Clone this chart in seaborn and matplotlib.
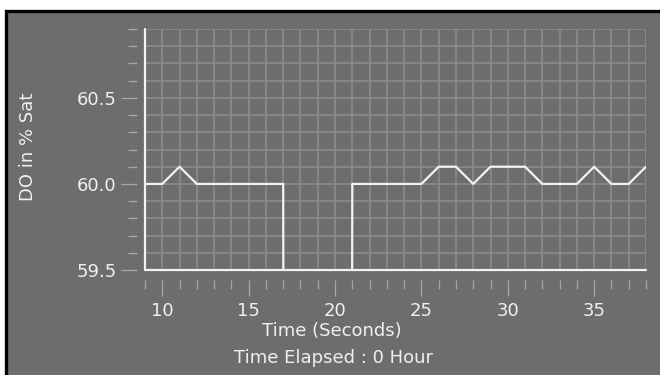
import matplotlib
matplotlib.use("Agg")
import matplotlib.pyplot as plt
from matplotlib.patches import Rectangle
from matplotlib.ticker import MultipleLocator, FixedLocator
import seaborn as sns
import pandas as pd

# ---- data ----
time_s = [9, 10, 11, 12, 13, 14, 15, 16, 17, 18, 19, 20, 21, 22, 23, 24, 25,
          26, 27, 28, 29, 30, 31, 32, 33, 34, 35, 36, 37, 38]
do_sat = [60.0, 60.0, 60.1, 60.0, 60.0, 60.0, 60.0, 60.0, 60.0, 0.0, 0.0, 0.0,
          60.0, 60.0, 60.0, 60.0, 60.0, 60.1, 60.1, 60.0, 60.1, 60.1, 60.1,
          60.0, 60.0, 60.0, 60.1, 60.0, 60.0, 60.1]
x_ticks = [10, 15, 20, 25, 30, 35]
y_ticks = [59.5, 60.0, 60.5]
y_tick_labels = ["59.5", "60.0", "60.5"]

df = pd.DataFrame({"time": time_s, "do": do_sat})

sns.set_theme(style="dark")
plt.rcParams["font.family"] = ["DejaVu Sans"]

BG = "#6d6d6d"
GRID = "#8b8b8b"
TXT = "#f0f0f0"
TICK = "#a8a8a8"

W, H = 660, 375
fig = plt.figure(figsize=(W / 100, H / 100), dpi=100, facecolor="white")
# framed panel
fig.patches.append(Rectangle((6.5 / W, -0.1), 1.2, (H - 11.5) / H + 0.1,
                             transform=fig.transFigure, facecolor=BG,
                             edgecolor="black", linewidth=2.4, zorder=-10))

ax = fig.add_axes([145 / W, (H - 270) / H, (646 - 145) / W, (270 - 29) / H])
ax.set_facecolor(BG)

sns.lineplot(data=df, x="time", y="do", ax=ax, color="#f2f2f2",
             linewidth=1.6, zorder=5, clip_on=True)

ax.set_xlim(time_s[0], time_s[-1])
ax.set_ylim(59.5, 60.9)

ax.xaxis.set_major_locator(FixedLocator(x_ticks))
ax.xaxis.set_minor_locator(MultipleLocator(1))
ax.yaxis.set_major_locator(FixedLocator(y_ticks))
ax.yaxis.set_minor_locator(MultipleLocator(0.1))
ax.set_yticklabels(y_tick_labels)
ax.set_xticklabels([str(t) for t in x_ticks])
for lbl in ax.get_xticklabels():
    lbl.set_ha("left")

ax.grid(True, which="both", color=GRID, linewidth=1.2)
ax.set_axisbelow(True)

for s in ["top", "right"]:
    ax.spines[s].set_visible(False)
ax.spines["left"].set_position(("outward", 6))
ax.spines["left"].set_color("none")
ax.spines["bottom"].set_position(("outward", 7.5))
ax.spines["bottom"].set_color("none")
# visible white frame lines at the plot edge
ax.axvline(time_s[0], color="#f2f2f2", linewidth=1.6, zorder=6, clip_on=False)
ax.axhline(59.5, color="#f2f2f2", linewidth=1.6, zorder=6, clip_on=False)

ax.tick_params(axis="both", which="major", direction="out", length=11.5,
               width=0.9, color=TICK, labelcolor=TXT, labelsize=13)
ax.tick_params(axis="both", which="minor", direction="out", length=6.5,
               width=0.9, color=TICK)
ax.tick_params(axis="y", which="major", pad=3)
ax.tick_params(axis="x", which="major", pad=4)
ax.tick_params(axis="both", which="both", left=True, bottom=True)

ax.set_xlabel("Time (Seconds)", color=TXT, fontsize=13)
ax.xaxis.label.set_va("center")
ax.xaxis.set_label_coords((332 - 145) / 501, -(331 - 270) / 241)
ax.set_ylabel("DO in % Sat", color=TXT, fontsize=13)
ax.yaxis.label.set_va("center")
ax.yaxis.set_label_coords((28 - 145) / 501, (270 - 147) / 241)

fig.text(333 / W, (H - 358) / H, "Time Elapsed : 0 Hour", color=TXT,
         fontsize=13, ha="center", va="center")

fig.savefig("out.png", dpi=100, facecolor="white")
